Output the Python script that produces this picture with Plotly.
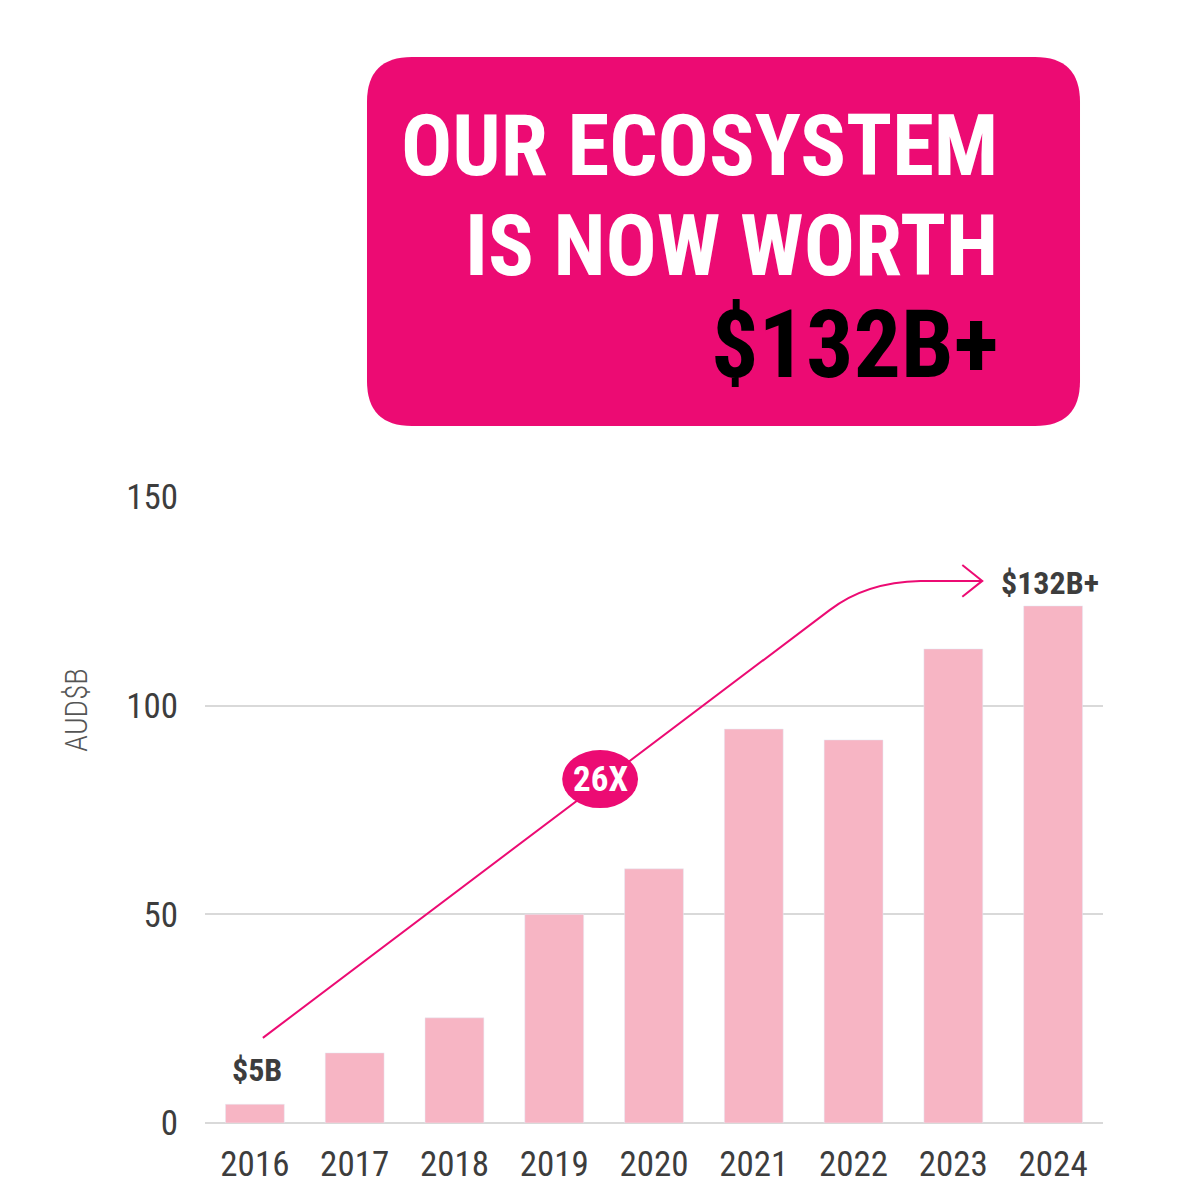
import plotly.graph_objects as go

# ---- data ----
years = ["2016", "2017", "2018", "2019", "2020", "2021", "2022", "2023", "2024"]
values = [4.5, 16.8, 25.2, 50.0, 60.9, 94.4, 91.8, 113.6, 123.9]
y_ticks = [0, 50, 100, 150]
first_label = "$5B"
last_label = "$132B+"
growth_label = "26X"
title_lines = ["OUR ECOSYSTEM", "IS NOW WORTH"]
title_value = "$132B+"
y_title = "AUD$B"

# ---- styles ----
PINK = "#EC0B73"
BAR = "#F7B5C4"
TXT = "#3d3d3d"
COND = "Roboto Condensed, Liberation Sans Narrow, sans-serif"

arrow_start = (0.08, 20.4)
arrow_bend = (5.76, 122.9)
arrow_ctrl = (6.12, 129.6)
arrow_flat = (6.67, 129.9)
arrow_tip = (7.29, 129.9)
head_dx, head_dy = 0.20, 3.8
badge_center = (3.46, 82.4)
badge_rx, badge_ry = 0.38, 6.95

fig = go.Figure()
fig.add_trace(go.Bar(x=list(range(len(years))), y=values, marker_color=BAR,
                     width=0.59, hoverinfo="skip"))

shapes = []
p = "M {},{} L {},{} Q {},{} {},{} L {},{}".format(
    *arrow_start, *arrow_bend, *arrow_ctrl, *arrow_flat, *arrow_tip)
shapes.append(dict(type="path", path=p, xref="x", yref="y",
                   line=dict(color=PINK, width=2)))
hp = "M {},{} L {},{} L {},{}".format(
    arrow_tip[0] - head_dx, arrow_tip[1] + head_dy, arrow_tip[0], arrow_tip[1],
    arrow_tip[0] - head_dx, arrow_tip[1] - head_dy)
shapes.append(dict(type="path", path=hp, xref="x", yref="y",
                   line=dict(color=PINK, width=2)))
shapes.append(dict(type="circle", xref="x", yref="y",
                   x0=badge_center[0] - badge_rx, x1=badge_center[0] + badge_rx,
                   y0=badge_center[1] - badge_ry, y1=badge_center[1] + badge_ry,
                   fillcolor=PINK, line=dict(width=0)))

xl, xr, yt, yb = 0.1804, 0.9744, 1.7029, 1.1134
rx, ry = 0.0501, 0.0719
box = ("M {xl},{y1} L {xl},{y2} Q {xl},{yt} {x1},{yt} L {x2},{yt} Q {xr},{yt} {xr},{y2} "
       "L {xr},{y1} Q {xr},{yb} {x2},{yb} L {x1},{yb} Q {xl},{yb} {xl},{y1} Z").format(
    xl=xl, xr=xr, yt=yt, yb=yb, x1=xl + rx, x2=xr - rx, y1=yb + ry, y2=yt - ry)
shapes.append(dict(type="path", path=box, xref="paper", yref="paper",
                   fillcolor=PINK, line=dict(width=0), layer="below"))

annotations = []
title_y = [1.561, 1.401]
for txt, ty in zip(title_lines, title_y):
    annotations.append(dict(text="<b>" + txt + "</b>", x=0.885, y=ty, xref="paper", yref="paper",
                            xanchor="right", yanchor="middle", showarrow=False,
                            font=dict(family=COND, size=85, color="white")))
annotations.append(dict(text="<b>" + title_value + "</b>", x=0.885, y=1.243, xref="paper", yref="paper",
                        xanchor="right", yanchor="middle", showarrow=False,
                        font=dict(family=COND, size=94, color="black")))
annotations.append(dict(text="<b>" + first_label + "</b>", x=0.02, y=values[0] + 8.2,
                        xref="x", yref="y", showarrow=False,
                        font=dict(family=COND, size=32, color=TXT)))
annotations.append(dict(text="<b>" + last_label + "</b>", x=len(years) - 1 - 0.03, y=values[-1] + 5.6,
                        xref="x", yref="y", showarrow=False,
                        font=dict(family=COND, size=32, color=TXT)))
annotations.append(dict(text="<b>" + growth_label + "</b>", x=badge_center[0], y=badge_center[1],
                        xref="x", yref="y", showarrow=False,
                        font=dict(family=COND, size=35, color="white")))
# y-axis title (placed off-centre as in the original)
annotations.append(dict(text=y_title, x=-0.1425, y=0.66, xref="paper", yref="paper",
                        textangle=-90, showarrow=False, xanchor="center", yanchor="middle",
                        font=dict(family=COND, size=31, color="#555555", weight=300)))

fig.update_layout(
    width=1200, height=1200,
    margin=dict(l=197, r=105, t=489, b=85),
    paper_bgcolor="white", plot_bgcolor="white",
    showlegend=False,
    shapes=shapes, annotations=annotations,
    xaxis=dict(tickmode="array", tickvals=list(range(len(years))), ticktext=years,
               range=[-0.5, len(years) - 0.5], showgrid=False, zeroline=False,
               showline=False, ticks="", ticklabelstandoff=17,
               tickfont=dict(family=COND, size=35, color=TXT)),
    yaxis=dict(tickmode="array", tickvals=y_ticks, range=[0, 150],
               showgrid=True, gridcolor="#d9d9d9", gridwidth=2, zeroline=True,
               zerolinecolor="#d9d9d9", zerolinewidth=2, showline=False, ticks="",
               ticklabelstandoff=26,
               tickfont=dict(family=COND, size=35, color=TXT)),
)

fig.write_html("out.html")
